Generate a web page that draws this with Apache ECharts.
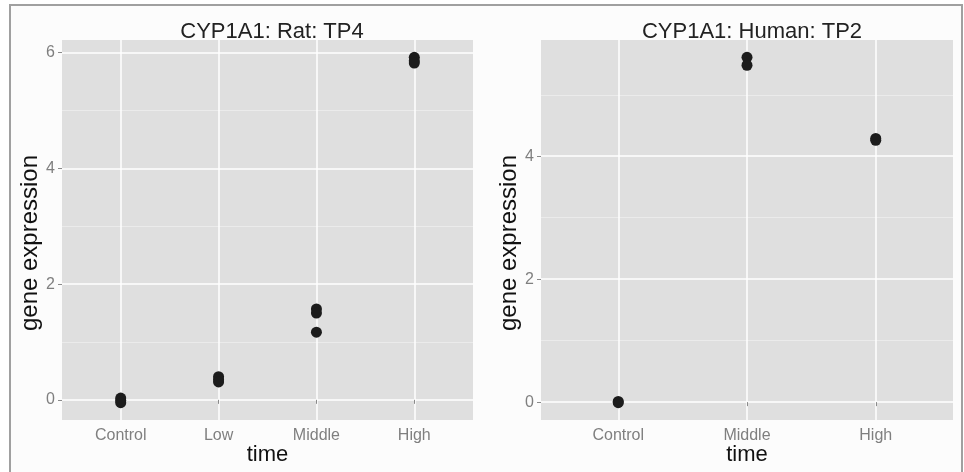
<!DOCTYPE html>
<html>
<head>
<meta charset="utf-8">
<script src="https://cdn.jsdelivr.net/npm/echarts@6/dist/echarts.min.js"></script>
<style>
    html, body { margin: 0; padding: 0; background: #fff; }
    #main { width: 964px; height: 472px; }
</style>
</head>
<body>
<div id="main"></div>
<script>
// 数据：左图 大鼠 TP4
var ratTimes = ['Control', 'Low', 'Middle', 'High'];
var ratControl = [0.03, -0.01, -0.05];
var ratLow = [0.40, 0.35, 0.31];
var ratMiddle = [1.57, 1.50, 1.17];
var ratHigh = [5.92, 5.86, 5.82];

// 右图 人 TP2
var humanTimes = ['Control', 'Middle', 'High'];
var humanControl = [0.01, -0.01];
var humanMiddle = [5.61, 5.48];
var humanHigh = [4.29, 4.26];

var ratTicks = [0, 2, 4, 6];
var ratMinor = [1, 3, 5];
var humanTicks = [0, 2, 4];
var humanMinor = [1, 3, 5];

(function () {
    var font = 'Liberation Sans, Arial, sans-serif';

    // 把每组数据变成 [x下标, 值]
    function toPoints(groups) {
        var pts = [];
        groups.forEach(function (g, i) {
            g.forEach(function (v) { pts.push([i, v]); });
        });
        return pts;
    }

    // ggplot 风格的 5% 扩展
    function range(groups) {
        var all = [].concat.apply([], groups);
        var lo = Math.min.apply(null, all), hi = Math.max.apply(null, all);
        var pad = (hi - lo) * 0.05;
        return [lo - pad, hi + pad];
    }

    var ratGroups = [ratControl, ratLow, ratMiddle, ratHigh];
    var humanGroups = [humanControl, humanMiddle, humanHigh];
    var ratRange = range(ratGroups);
    var humanRange = range(humanGroups);

    function xAxis(idx, cats) {
        var vals = cats.map(function (c, i) { return i; });
        return {
            type: 'value', gridIndex: idx, position: 'bottom',
            min: -0.6, max: cats.length - 1 + 0.6,
            name: 'time', nameLocation: 'middle', nameGap: 24, nameMoveOverlap: false,
            nameTextStyle: { color: '#111', fontSize: 22, fontFamily: font },
            axisLine: { show: false },
            axisTick: { show: true, length: 4, customValues: vals, lineStyle: { color: '#8a8a8a' } },
            axisLabel: {
                customValues: vals, color: '#7f7f7f', fontSize: 16, fontFamily: font, margin: 8,
                formatter: function (v) { return cats[v]; }
            },
            splitLine: { show: true, lineStyle: { color: '#ffffff', width: 1.5 } }
        };
    }

    function yAxis(idx, r, ticks) {
        return {
            type: 'value', gridIndex: idx, position: 'left', min: r[0], max: r[1],
            name: 'gene expression', nameLocation: 'middle', nameGap: 19, nameRotate: 90,
            nameTextStyle: { color: '#111', fontSize: 24, fontFamily: font, padding: [0, 26, 0, 0] },
            axisLine: { show: false },
            axisTick: { show: true, length: 4, customValues: ticks, lineStyle: { color: '#8a8a8a' } },
            axisLabel: { customValues: ticks, color: '#7f7f7f', fontSize: 16, fontFamily: font, margin: 7 },
            splitLine: { show: true, lineStyle: { color: '#ffffff', width: 1.5 } }
        };
    }

    // 次网格线：叠加一个只画分隔线的 y 轴
    function minorAxis(idx, r, minor) {
        return {
            type: 'value', gridIndex: idx, position: 'left', min: r[0], max: r[1],
            axisLine: { show: false },
            axisTick: { show: false, customValues: minor },
            axisLabel: { show: false },
            splitLine: { show: true, lineStyle: { color: '#ebebeb', width: 1 } }
        };
    }

    var dot = { color: '#1c1c1c', opacity: 1 };

    var option = {
        backgroundColor: '#ffffff',
        animation: false,
        graphic: [{
            type: 'rect', z: -10,
            shape: { x: 10, y: 5, width: 952, height: 480 },
            style: { fill: '#fcfcfc', stroke: '#a0a0a0', lineWidth: 2 }
        }],
        title: [
            { text: 'CYP1A1: Rat: TP4', left: 267, top: 16, textAlign: 'center',
              textStyle: { color: '#222', fontSize: 22, fontWeight: 'normal', fontFamily: font } },
            { text: 'CYP1A1: Human: TP2', left: 747, top: 16, textAlign: 'center',
              textStyle: { color: '#222', fontSize: 22, fontWeight: 'normal', fontFamily: font } }
        ],
        grid: [
            { left: 62, top: 40, width: 411, height: 380, show: true, backgroundColor: '#dfdfdf',
              borderWidth: 0, outerBoundsMode: 'none' },
            { left: 541, top: 40, width: 412, height: 380, show: true, backgroundColor: '#dfdfdf',
              borderWidth: 0, outerBoundsMode: 'none' }
        ],
        xAxis: [xAxis(0, ratTimes), xAxis(1, humanTimes)],
        yAxis: [
            minorAxis(0, ratRange, ratMinor),
            yAxis(0, ratRange, ratTicks),
            minorAxis(1, humanRange, humanMinor),
            yAxis(1, humanRange, humanTicks)
        ],
        series: [
            { type: 'scatter', xAxisIndex: 0, yAxisIndex: 1, symbolSize: 11,
              itemStyle: dot, data: toPoints(ratGroups) },
            { type: 'scatter', xAxisIndex: 1, yAxisIndex: 3, symbolSize: 11,
              itemStyle: dot, data: toPoints(humanGroups) }
        ]
    };

    var myechart = echarts.init(document.getElementById('main'));
    myechart.setOption(option);
})();
</script>
</body>
</html>
